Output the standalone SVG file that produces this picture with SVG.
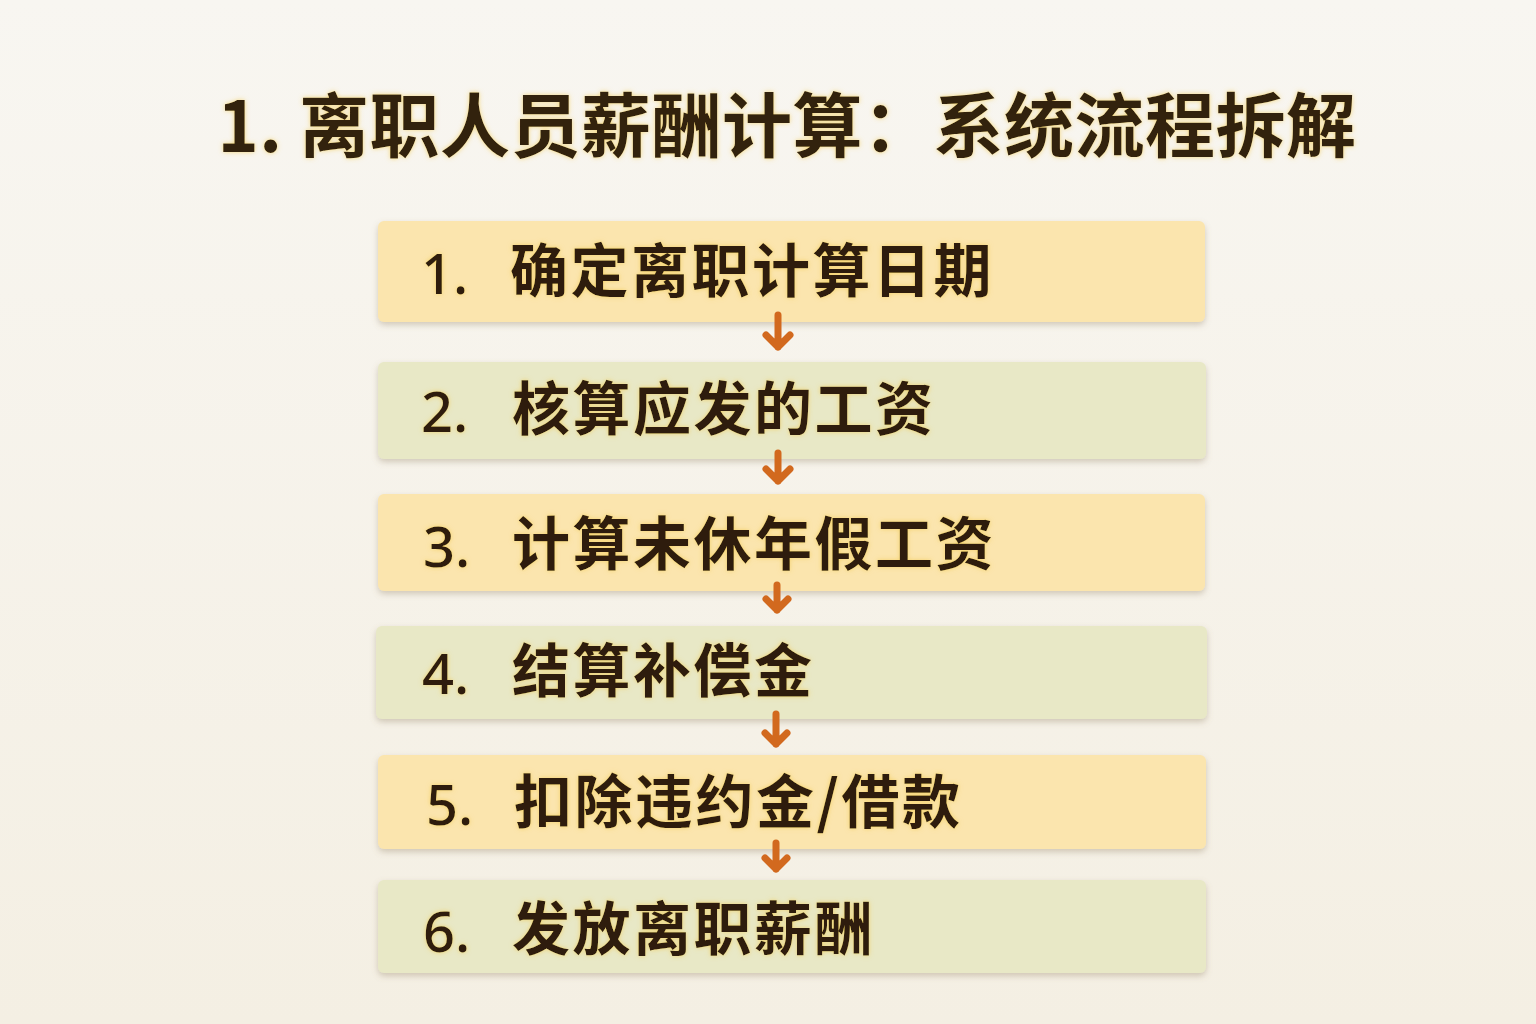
<svg xmlns="http://www.w3.org/2000/svg" width="1536" height="1024" viewBox="0 0 1536 1024">
<defs>
<linearGradient id="bg" x1="0" y1="0" x2="0" y2="1">
<stop offset="0" stop-color="#F8F6F1"/>
<stop offset="1" stop-color="#F4EFE3"/>
</linearGradient>
<filter id="sh" x="-5%" y="-20%" width="110%" height="150%">
<feDropShadow dx="0" dy="3" stdDeviation="3" flood-color="#8A7A5A" flood-opacity="0.35"/>
</filter>
<filter id="glow" x="-5%" y="-20%" width="110%" height="140%">
<feGaussianBlur in="SourceAlpha" stdDeviation="2.5" result="b"/>
<feFlood flood-color="#F2C94C" flood-opacity="0.7"/>
<feComposite in2="b" operator="in" result="g"/>
<feMerge><feMergeNode in="g"/><feMergeNode in="SourceGraphic"/></feMerge>
</filter>
</defs>
<style>
.title{font-family:"Noto Sans CJK SC","Noto Sans",sans-serif;font-weight:700;font-size:70px;fill:#33200F;letter-spacing:0.5px}
.lbl{font-family:"Noto Sans CJK SC","Noto Sans",sans-serif;font-weight:700;font-size:58px;fill:#2E1B0C;letter-spacing:2.5px}
.num{font-family:"Noto Sans","Noto Sans CJK SC",sans-serif;font-weight:500;font-size:56px;fill:#2E1B0C}
.y{fill:#FBE5AE}
.g{fill:#E8E8C6}
.box{filter:url(#sh)}
.arr{stroke:#D2691E;stroke-width:7;fill:none;stroke-linecap:round;stroke-linejoin:round}
</style>
<rect width="1536" height="1024" fill="url(#bg)"/>
<g id="title" filter="url(#glow)">
<text class="title" x="787" y="152" text-anchor="middle">1. 离职人员薪酬计算：系统流程拆解</text>
</g>
<g id="node1">
<rect class="box y" x="378" y="221" width="827" height="101" rx="6"/>
<g filter="url(#glow)"><text class="num" x="421" y="294">1.</text><text class="lbl" x="510" y="292">确定离职计算日期</text></g>
</g>
<g id="node2">
<rect class="box g" x="378" y="362" width="828" height="97" rx="6"/>
<g filter="url(#glow)"><text class="num" x="421" y="432">2.</text><text class="lbl" x="512" y="430">核算应发的工资</text></g>
</g>
<g id="node3">
<rect class="box y" x="378" y="494" width="827" height="97" rx="6"/>
<g filter="url(#glow)"><text class="num" x="423" y="567">3.</text><text class="lbl" x="512" y="565">计算未休年假工资</text></g>
</g>
<g id="node4">
<rect class="box g" x="376" y="626" width="831" height="93" rx="6"/>
<g filter="url(#glow)"><text class="num" x="422" y="694">4.</text><text class="lbl" x="512" y="692">结算补偿金</text></g>
</g>
<g id="node5">
<rect class="box y" x="378" y="755" width="828" height="94" rx="6"/>
<g filter="url(#glow)"><text class="num" x="426" y="825">5.</text><text class="lbl" x="514" y="823">扣除违约金/借款</text></g>
</g>
<g id="node6">
<rect class="box g" x="378" y="880" width="828" height="93" rx="6"/>
<g filter="url(#glow)"><text class="num" x="423" y="952">6.</text><text class="lbl" x="512" y="950">发放离职薪酬</text></g>
</g>
<g id="connectors">
<path class="arr" d="M778 315 V347 M766 335 L778 347 L790 335"/>
<path class="arr" d="M778 453 V481 M766 469 L778 481 L790 469"/>
<path class="arr" d="M777 585 V610 M766 599 L777 610 L788 599"/>
<path class="arr" d="M776 714 V744 M765 733 L776 744 L787 733"/>
<path class="arr" d="M776 843 V869 M765 858 L776 869 L787 858"/>
</g>
</svg>
